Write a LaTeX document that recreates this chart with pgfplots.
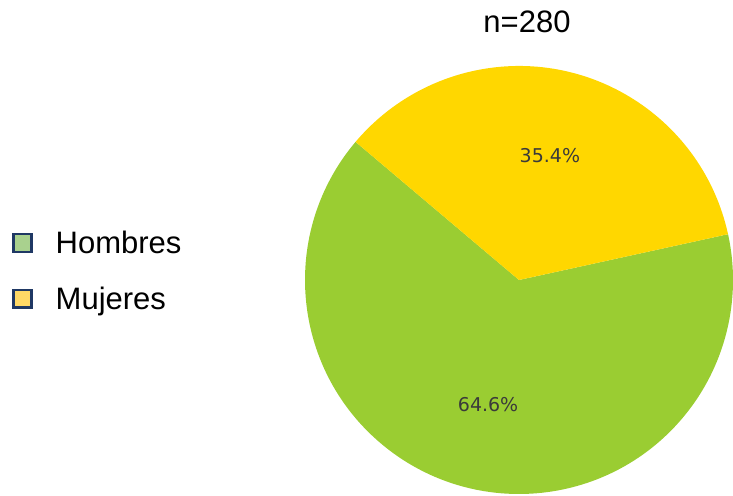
\documentclass[border=0pt]{standalone}
\usepackage{fontspec}
\setmainfont{Liberation Sans}
\newfontfamily\dejavu{DejaVu Sans}
\usepackage{pgfplots}
\usepackage{pgfplotstable}
\usetikzlibrary{calc}
\pgfplotsset{compat=1.18}
\definecolor{cH}{HTML}{9ACD32}
\definecolor{cM}{HTML}{FFD700}
\definecolor{lH}{HTML}{A9D18E}
\definecolor{lM}{HTML}{FFD966}
\definecolor{edge}{HTML}{1F3864}
\definecolor{pct}{HTML}{3A3A3A}
\pgfplotstableread{
label value
Hombres 64.6
Mujeres 35.4
}\slices
\begin{document}
\begin{tikzpicture}
\useasboundingbox (0,0) rectangle (733pt,495pt);
\pgfplotstablegetelem{0}{value}\of\slices \let\vH\pgfplotsretval
\pgfplotstablegetelem{1}{value}\of\slices \let\vM\pgfplotsretval
\pgfmathsetmacro{\aS}{139.8}
\pgfmathsetmacro{\aA}{\aS+3.6*\vH}
\pgfmathsetmacro{\aB}{\aA+3.6*\vM}
\pgfmathsetmacro{\mH}{(\aS+\aA)/2}
\pgfmathsetmacro{\mM}{(\aA+\aB)/2}
\begin{axis}[
  x=1pt, y=1pt, xmin=0, xmax=733, ymin=0, ymax=495,
  scale only axis, hide axis, clip=false,
  legend style={at={(axis cs:12.3,264)}, anchor=north west, draw=none, fill=none,
    font=\fontsize{31}{37}\selectfont, inner sep=0pt, row sep=31.5pt,
    nodes={inner sep=0pt}},
  legend cell align=left,
  legend image code/.code={\draw[#1, line width=2.3pt] (1.15pt,-8.85pt) rectangle (18.85pt,8.85pt); \path (43pt,0pt);},
]
\addlegendimage{fill=lH, draw=edge}
\addlegendentry{Hombres}
\addlegendimage{fill=lM, draw=edge}
\addlegendentry{Mujeres}
\fill[cH] (axis cs:519,215) -- ++(\aS:214pt) arc[start angle=\aS, end angle=\aA, radius=214pt] -- cycle;
\fill[cM] (axis cs:519,215) -- ++(\aA:214pt) arc[start angle=\aA, end angle=\aB, radius=214pt] -- cycle;
\node[font=\dejavu\fontsize{19}{23}\selectfont, text=pct] at ($(axis cs:519,215)+(\mH:128.4pt)$) {\pgfmathprintnumber[fixed,precision=1,fixed zerofill,assume math mode=true]{\vH}\%};
\node[font=\dejavu\fontsize{19}{23}\selectfont, text=pct] at ($(axis cs:519,215)+(\mM:128.4pt)$) {\pgfmathprintnumber[fixed,precision=1,fixed zerofill,assume math mode=true]{\vM}\%};
\node[font=\fontsize{31}{37}\selectfont] at (axis cs:527,473) {n=280};
\end{axis}
\end{tikzpicture}
\end{document}
